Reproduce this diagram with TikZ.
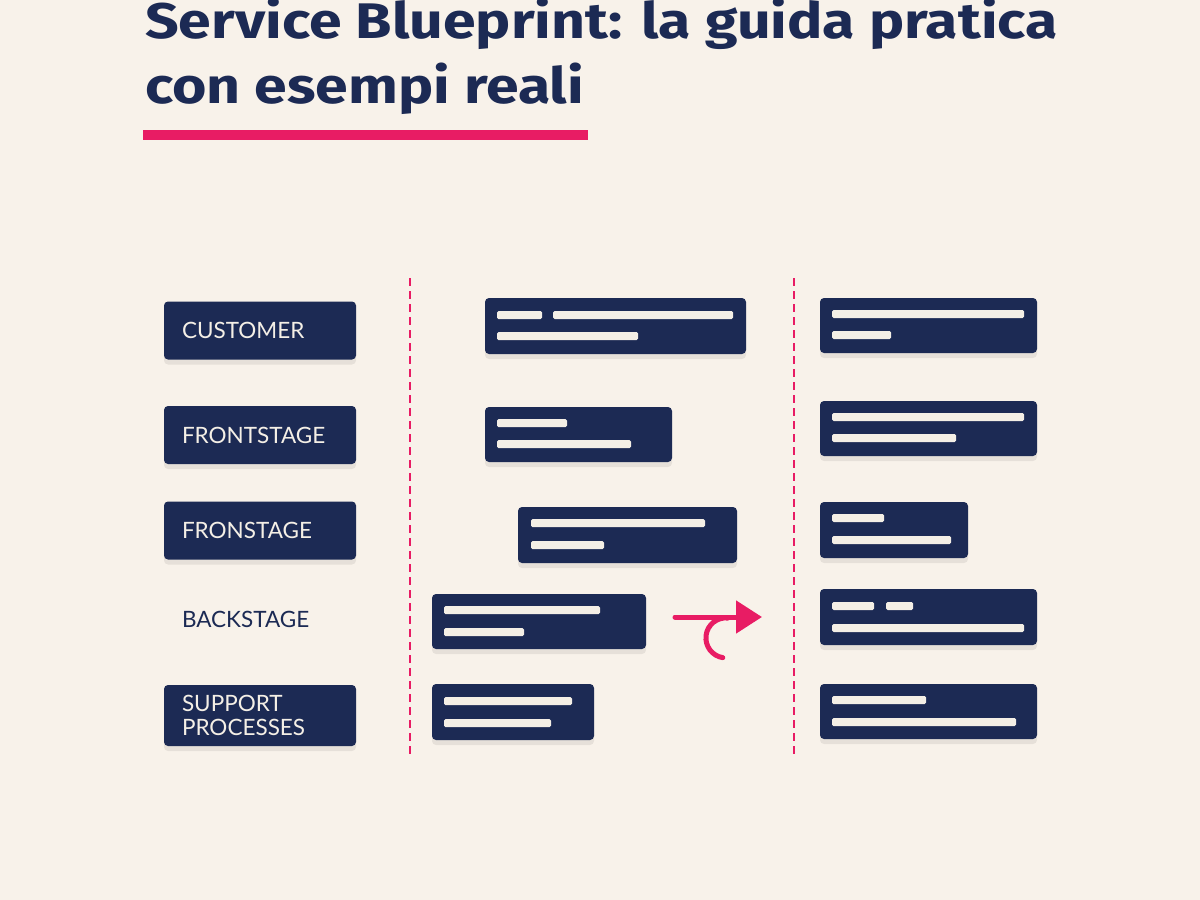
\documentclass[tikz,border=0pt]{standalone}
\usepackage{fontspec}
\setmainfont{Lato}
\newfontfamily\titlefont{Fira Sans}[FakeStretch=1.18]
\usepackage{xcolor}
\definecolor{paper}{RGB}{248, 242, 234}
\definecolor{navy}{RGB}{28, 42, 84}
\definecolor{accent}{RGB}{232, 28, 100}
\definecolor{cream}{RGB}{244, 239, 230}
\usepackage{tikz}
\usetikzlibrary{arrows.meta,shadows}

\newcommand{\bpcard}[4]{\fill[card] (#1,#2) rectangle (#3,#4);}
\newcommand{\bpline}[3]{\fill[bar] (#1,#2) rectangle (#3,{#2+8});}

\begin{document}
\begin{tikzpicture}[x=1pt, y=-1pt, >=Stealth,
    softshadow/.style={drop shadow={shadow xshift=0pt, shadow yshift=-5pt, opacity=0.07, fill=black}},
    card/.style={navy, rounded corners=4pt, softshadow},
    bar/.style={cream, rounded corners=1.5pt},
    lanetext/.style={minimum width=192pt, minimum height=58pt, text width=156pt,
        align=left, inner xsep=18pt, text=navy,
        font=\fontsize{22.5}{24}\selectfont},
    lane/.style={lanetext, fill=navy, rounded corners=4pt, text=cream, softshadow},
    titletext/.style={anchor=base west, inner sep=0pt, text=navy,
        font=\titlefont\fontsize{50}{60}\selectfont\bfseries},
    sep/.style={accent, line width=2.5pt, dash pattern=on 8pt off 5pt}]
    % Background
    \useasboundingbox (0,0) rectangle (1200,900);
    \fill[paper] (0,0) rectangle (1200,900);

    % Title
    \node[titletext] (title1) at (145,38) {Service Blueprint: la guida pratica};
    \node[titletext] (title2) at (145,103) {con esempi reali};
    \fill[accent] (143,130) rectangle (588,140);

    % Lanes
    \node[lane] (customer) at (260,330.5) {CUSTOMER};
    \node[lane] (front) at (260,435) {FRONTSTAGE};
    \node[lane] (fron) at (260,530.5) {FRONSTAGE};
    \node[lanetext] (back) at (260,619) {BACKSTAGE};
    \node[lane, minimum height=61pt] (support) at (260,715.5) {SUPPORT\\PROCESSES};

    % Dividers
    \draw[sep] (410,278) -- (410,755);
    \draw[sep] (794,278) -- (794,755);

    % Middle column
    \bpcard{485}{298}{746}{354}
    \bpline{497}{311}{542} \bpline{553}{311}{733} \bpline{497}{332}{638}
    \bpcard{485}{407}{672}{462}
    \bpline{497}{419}{567} \bpline{497}{440}{631}
    \bpcard{518}{507}{737}{563}
    \bpline{531}{519}{705} \bpline{531}{541}{604}
    \bpcard{432}{594}{646}{649}
    \bpline{444}{606}{600} \bpline{444}{628}{524}
    \bpcard{432}{684}{594}{740}
    \bpline{444}{697}{572} \bpline{444}{719}{551}

    % Right column
    \bpcard{820}{298}{1037}{353}
    \bpline{832}{310}{1024} \bpline{832}{331}{891}
    \bpcard{820}{401}{1037}{456}
    \bpline{832}{413}{1024} \bpline{832}{434}{956}
    \bpcard{820}{502}{968}{558}
    \bpline{832}{514}{884} \bpline{832}{536}{951}
    \bpcard{820}{589}{1037}{645}
    \bpline{832}{602}{874} \bpline{886}{602}{913} \bpline{832}{624}{1024}
    \bpcard{820}{684}{1037}{739}
    \bpline{832}{696}{926} \bpline{832}{718}{1016}

    % Hand-off arrow
    \coordinate (hstart) at (675,617);
    \coordinate (hend) at (762,617);
    \draw[accent, line width=5pt, line cap=round, -{Triangle[length=26pt, width=32pt]}] (hstart) -- (hend);
    \draw[accent, line width=5pt, line cap=round] (728,618) arc[start angle=-84, end angle=-261, radius=20];
\end{tikzpicture}
\end{document}
